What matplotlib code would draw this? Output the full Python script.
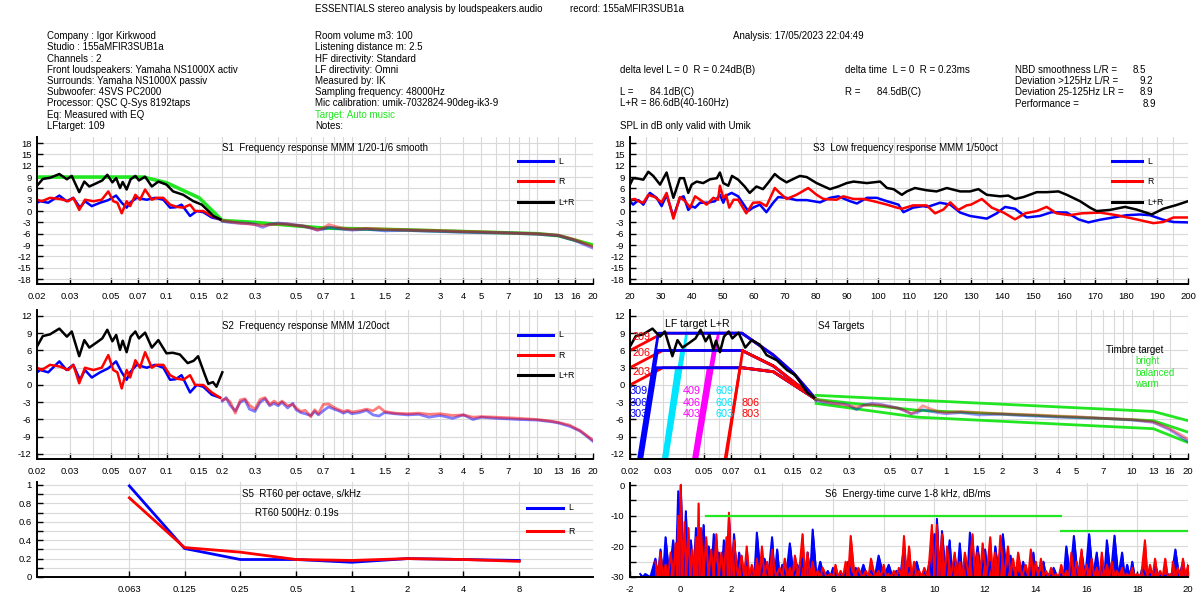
import numpy as np
import matplotlib
matplotlib.use('Agg')
import matplotlib.pyplot as plt
from matplotlib.ticker import FixedLocator, NullFormatter, MultipleLocator

plt.rcParams['font.family'] = ['Liberation Sans', 'DejaVu Sans']
plt.rcParams['axes.unicode_minus'] = False

BLUE, RED, BLACK, GREEN = '#0000ff', '#ff0000', '#000000', '#22e622'
CYAN, MAGENTA = '#00e5ff', '#ff00ff'
FS = 7.0

# ---------------- data (kHz, dB) ----------------
freq_ticks = [0.02, 0.03, 0.05, 0.07, 0.1, 0.15, 0.2, 0.3, 0.5, 0.7, 1, 1.5, 2, 3, 4, 5, 7, 10, 13, 16, 20]
freq_labels = ['0.02', '0.03', '0.05', '0.07', '0.1', '0.15', '0.2', '0.3', '0.5', '0.7', '1', '1.5', '2',
               '3', '4', '5', '7', '10', '13', '16', '20']

# low frequency part, same in S1 and S2
lf_L = [(0.020, 2.2), (0.0208, 2.6), (0.023, 2.2), (0.0264, 4.1), (0.0289, 2.6), (0.0314, 3.5),
        (0.0341, 0.9), (0.0363, 2.6), (0.0395, 1.3), (0.0438, 2.2), (0.0485, 2.9), (0.0534, 4.1),
        (0.0573, 2.2), (0.0609, 0.9), (0.0636, 2.2), (0.069, 3.5), (0.0782, 3.0), (0.0867, 3.5),
        (0.0961, 3.0), (0.1045, 0.9), (0.1120, 1.0), (0.1205, 1.7), (0.1339, -1.3), (0.1455, 0.0),
        (0.1578, -0.3), (0.1754, -1.7), (0.1943, -2.2)]
lf_R = [(0.020, 3.0), (0.0212, 2.6), (0.0235, 3.5), (0.0266, 3.2), (0.0295, 2.6), (0.0314, 3.5),
        (0.0338, 0.3), (0.0363, 3.0), (0.0403, 2.6), (0.0447, 3.0), (0.0485, 5.2), (0.0516, 2.6),
        (0.0543, 2.2), (0.0573, -0.6), (0.0609, 2.6), (0.0636, 1.3), (0.0679, 4.3), (0.0719, 3.0),
        (0.0766, 5.7), (0.0833, 3.0), (0.0885, 3.5), (0.0961, 3.5), (0.1045, 1.7), (0.1135, 1.1),
        (0.1231, 0.9), (0.1339, 1.7), (0.1425, 0.0), (0.1578, 0.0), (0.1754, -1.3), (0.1943, -2.2)]
lf_LR = [(0.020, 6.7), (0.0215, 8.5), (0.0235, 8.8), (0.0264, 9.8), (0.029, 8.4), (0.0308, 9.3),
         (0.0338, 5.0), (0.036, 7.8), (0.0383, 6.5), (0.042, 7.4), (0.045, 8.1), (0.0479, 9.6),
         (0.051, 7.6), (0.0535, 8.7), (0.0561, 6.1), (0.058, 7.7), (0.0609, 5.7), (0.064, 8.4),
         (0.0679, 9.3), (0.071, 8.1), (0.0766, 9.1), (0.0833, 6.5), (0.0903, 7.8), (0.0999, 7.0),
         (0.1085, 5.2), (0.1231, 4.3), (0.1397, 2.6), (0.1548, 1.7), (0.1683, 0.0), (0.179, -1.3),
         (0.195, -2.2)]
s2_LR = [(0.020, 6.7), (0.0215, 8.5), (0.0235, 8.8), (0.0264, 9.8), (0.029, 8.4), (0.0308, 9.3),
         (0.0338, 5.0), (0.036, 7.8), (0.0383, 6.5), (0.042, 7.4), (0.045, 8.1), (0.0479, 9.6),
         (0.051, 7.6), (0.0535, 8.7), (0.0561, 6.1), (0.058, 7.7), (0.0609, 5.7), (0.064, 8.4),
         (0.0679, 9.3), (0.071, 8.1), (0.0766, 9.1), (0.0833, 6.5), (0.0903, 7.8), (0.0999, 5.5),
         (0.108, 5.6), (0.118, 5.3), (0.130, 3.8), (0.140, 4.2), (0.148, 5.0), (0.160, 2.0),
         (0.168, 0.2), (0.178, 0.5), (0.186, -0.3), (0.200, 2.2)]

# S1 smoothed upper part
s1_hf_L = [(0.2, -2.7), (0.22, -3.0), (0.25, -3.2), (0.28, -3.3), (0.3, -3.5), (0.33, -4.3), (0.36, -3.5),
           (0.4, -3.2), (0.45, -3.4), (0.5, -3.7), (0.55, -4.0), (0.6, -4.5), (0.65, -5.0), (0.7, -4.8),
           (0.75, -4.3), (0.8, -4.5), (0.9, -4.8), (1.0, -5.0), (1.2, -4.8), (1.5, -5.2), (2, -5.1),
           (2.5, -5.3), (3, -5.4), (4, -5.6), (5, -5.7), (7, -5.8), (10, -6.1), (13, -6.5), (16, -7.8),
           (20, -9.8)]
s1_hf_R = [(0.2, -2.5), (0.22, -2.8), (0.25, -3.2), (0.28, -3.4), (0.3, -3.6), (0.33, -3.8), (0.36, -3.6),
           (0.4, -3.4), (0.45, -3.5), (0.5, -3.8), (0.55, -4.0), (0.6, -4.4), (0.65, -5.0), (0.7, -4.5),
           (0.75, -3.6), (0.8, -4.0), (0.9, -4.6), (1.0, -4.8), (1.2, -4.6), (1.5, -4.8), (2, -5.0),
           (2.5, -5.1), (3, -5.2), (4, -5.4), (5, -5.5), (7, -5.8), (10, -6.0), (13, -6.4), (16, -7.6),
           (20, -9.4)]
s1_target = [(0.02, 9), (0.075, 9), (0.1, 7.5), (0.15, 3.5), (0.2, -2.5), (0.3, -3.0), (0.7, -4.5),
             (2, -5.0), (10, -6.0), (13, -6.5), (20, -9.0)]

# S2 1/20 oct upper part
s2_hf_L = [(0.2, -2.8), (0.21, -2.2), (0.22, -3.5), (0.235, -4.5), (0.25, -3.0), (0.265, -2.6), (0.28, -4.2),
           (0.3, -4.6), (0.32, -3.0), (0.34, -2.4), (0.36, -3.6), (0.38, -3.2), (0.4, -3.6), (0.42, -3.0),
           (0.45, -4.0), (0.48, -3.2), (0.5, -4.3), (0.53, -4.8), (0.56, -5.0), (0.6, -5.3), (0.63, -4.6),
           (0.66, -5.2), (0.7, -4.5), (0.75, -3.8), (0.8, -4.2), (0.85, -4.5), (0.9, -4.9), (0.95, -4.6),
           (1.0, -5.0), (1.1, -4.8), (1.2, -4.4), (1.3, -5.2), (1.4, -5.4), (1.5, -4.8), (1.7, -5.0),
           (2, -5.2), (2.3, -5.1), (2.6, -5.6), (3, -5.3), (3.5, -5.8), (4, -5.2), (4.5, -6.0), (5, -5.6),
           (6, -5.8), (7, -5.9), (8, -6.0), (10, -6.1), (12, -6.4), (13, -6.6), (15, -7.2), (16, -7.6),
           (17, -8.0), (18, -8.6), (20, -9.8)]
s2_hf_R = [(0.2, -2.6), (0.21, -2.4), (0.22, -2.9), (0.235, -4.9), (0.25, -2.6), (0.265, -2.4), (0.28, -3.5),
           (0.3, -4.2), (0.32, -2.5), (0.34, -2.2), (0.36, -3.4), (0.38, -2.8), (0.4, -3.3), (0.42, -2.8),
           (0.45, -3.6), (0.48, -3.4), (0.5, -4.0), (0.53, -4.6), (0.56, -4.4), (0.6, -5.5), (0.63, -4.3),
           (0.66, -5.0), (0.7, -3.4), (0.75, -3.3), (0.8, -3.9), (0.85, -4.3), (0.9, -4.6), (0.95, -4.4),
           (1.0, -4.7), (1.1, -4.5), (1.2, -4.2), (1.3, -4.5), (1.4, -3.8), (1.5, -4.6), (1.7, -4.9),
           (2, -5.0), (2.3, -4.9), (2.6, -5.1), (3, -5.0), (3.5, -5.3), (4, -5.2), (4.5, -5.6), (5, -5.5),
           (6, -5.6), (7, -5.7), (8, -5.8), (10, -6.0), (12, -6.3), (13, -6.5), (15, -7.0), (16, -7.5),
           (17, -7.9), (18, -8.5), (20, -9.6)]

# S3 low frequency response (Hz, dB)
s3_L = [(20, 2.6), (21, 1.7), (22.7, 2.9), (24.3, 1.7), (26.4, 4.8), (28.6, 3.5), (30.2, 1.3), (31.8, 4.3),
        (34, -1.5), (36.1, 3.5), (37.3, 3.9), (38.8, 0.3), (39.9, 1.3), (41, 0.9), (42.6, 2.2), (45, 2.2),
        (47.4, 2.6), (49, 4.3), (50.1, 2.2), (51, 4.1), (52.8, 4.8), (54.9, 3.9), (58.1, 0.0), (59.7, 0.9),
        (61.9, 1.7), (64, -0.3), (66.2, 2.2), (67.8, 3.7), (70.5, 3.5), (73.7, 2.9), (77, 2.9), (81.3, 2.3),
        (84.5, 3.5), (87.2, 3.9), (91, 2.6), (93.2, 2.0), (96.4, 3.5), (99.6, 3.5), (102.9, 2.6),
        (106.6, 1.7), (108.2, -0.3), (111.3, 0.9), (114.5, 1.3), (116, 1.1), (120, 2.2), (123.3, 1.7),
        (126.5, -0.4), (129.7, -1.3), (135.1, -2.0), (138.3, -0.6), (141, 1.1), (144.2, 0.6), (148, -1.7),
        (152.2, -1.3), (156, -0.3), (160.9, -0.4), (164.7, -2.2), (167.9, -3.0), (171.6, -2.3),
        (175.9, -1.7), (180.2, -1.1), (184.5, -0.9), (187.7, -1.1), (192, -2.3), (195.3, -2.9), (200, -3.0)]
s3_R = [(20, 3.0), (21.6, 3.2), (22.7, 2.6), (24.3, 2.2), (25.9, 4.3), (28, 3.7), (30.2, 2.3), (31.8, 4.8),
        (34, -2.0), (36.1, 3.7), (37.8, 2.6), (39.4, 0.9), (41, 3.9), (42.6, 3.0), (44.7, 1.7), (46.9, 3.5),
        (48.4, 3.0), (49, 6.7), (50.1, 3.5), (51, 4.3), (52, 0.9), (53.4, 3.0), (54.9, 3.0), (57.5, -0.6),
        (59.7, 2.2), (61.9, 2.3), (64, 1.3), (66.7, 6.1), (68.3, 4.8), (70.5, 3.2), (73.7, 4.3), (77.5, 6.1),
        (80.2, 4.3), (82.4, 3.2), (86.6, 3.0), (88.8, 3.9), (92.1, 3.2), (95.3, 3.2), (98.6, 2.6),
        (102.9, 1.7), (106.1, 0.9), (107.7, 0.6), (111.3, 1.5), (115.7, 1.5), (118.4, -0.6), (121.1, 0.4),
        (123.3, 2.3), (125.9, 0.3), (128.6, 1.5), (130, 1.7), (133.5, 3.2), (136.7, 0.9), (140.5, -0.4),
        (144.2, -2.2), (147.5, -0.6), (151.2, 0.0), (154.4, 1.1), (157.6, -0.6), (161.9, -1.1),
        (165.7, -0.6), (171.6, -0.4), (177, -1.1), (182.3, -2.0), (188.8, -3.2), (192, -2.9),
        (195.3, -1.7), (200, -1.7)]
s3_LR = [(20, 7.0), (21, 8.7), (22.5, 8.6), (24.3, 8.3), (25.9, 10.4), (27.5, 9.3), (29.7, 7.0), (31.8, 10.2),
         (34, 3.5), (36.1, 8.7), (37.4, 8.7), (38.8, 4.8), (39.9, 7.0), (41.5, 7.8), (43.6, 7.4), (45.8, 8.4),
         (48, 8.7), (49, 10.2), (50.1, 7.4), (51.7, 6.7), (52.9, 9.3), (54.9, 8.3), (57, 6.5), (58.6, 4.8),
         (60.8, 6.5), (62.9, 5.8), (64.5, 7.4), (66.7, 9.8), (68.3, 8.7), (70.5, 7.6), (73.2, 8.7),
         (74.8, 9.3), (77, 9.0), (80.2, 7.4), (84.5, 5.8), (87.2, 6.5), (89.9, 7.4), (92.1, 7.8), (96.4, 7.4),
         (100.7, 7.8), (102.9, 6.1), (105, 5.8), (107.7, 4.3), (109.3, 5.2), (111.9, 6.1), (115.7, 5.5),
         (118.9, 5.2), (122.2, 6.1), (126.5, 5.2), (129.7, 5.2), (132.4, 5.8), (135.1, 4.3), (139.4, 3.9),
         (142, 4.1), (144.2, 3.2), (146.9, 3.7), (151.2, 5.0), (154.4, 5.0), (158.2, 5.2), (160.9, 4.3),
         (165.2, 2.6), (168.4, 0.9), (170.5, 0.0), (174.8, 0.3), (179.7, 1.1), (183.4, 0.4), (188.3, -0.9),
         (192, 0.6), (196.3, 1.6), (200, 2.6)]

# S4 LF targets: shoulder per level, steep flanks (f at -13 dB, f at level)
shoulders = {9: [(0.08, 9), (0.118, 5.2), (0.151, 2.1), (0.2, -2.5)],
             6: [(0.08, 6), (0.118, 3.3), (0.2, -2.5)],
             3: [(0.08, 3), (0.118, 2.3), (0.2, -2.5)]}
flank_2xx = [(0.02, 0.03, 9), (0.02, 0.03, 6), (0.02, 0.03, 3)]     # starts 3 dB below level
flank_3xx = [(0.0222, 0.0284, 9), (0.0226, 0.0281, 6), (0.0231, 0.0277, 3)]
flank_4xx = [(0.0315, 0.0403, 9), (0.0308, 0.0379, 6), (0.0302, 0.0356, 3)]
flank_6xx = [(0.0457, 0.0597, 9), (0.0447, 0.0561, 6), (0.0438, 0.0527, 3)]
flank_8xx = [(0.0656, 0.0807, 6), (0.0648, 0.0781, 3)]
timbre_bright = [(0.2, -1.8), (13, -4.6), (20, -6.2)]
timbre_balanced = [(0.2, -2.5), (0.7, -4.4), (13, -6.2), (20, -8.2)]
timbre_warm = [(0.2, -3.2), (0.7, -5.6), (13, -7.6), (20, -10.0)]

# S5 RT60 per octave
rt_freq = [0.063, 0.125, 0.25, 0.5, 1, 2, 4, 8]
rt_labels = ['0.063', '0.125', '0.25', '0.5', '1', '2', '4', '8']
rt_L = [0.99, 0.31, 0.19, 0.19, 0.16, 0.20, 0.19, 0.18]
rt_R = [0.86, 0.32, 0.27, 0.19, 0.18, 0.20, 0.19, 0.17]

# S6 energy-time curve peaks (ms, dB)
etc_L = [(-1.6, -29), (-1.4, -29), (-1.0, -24), (-0.8, -21), (-0.6, -17), (-0.3, -18), (-0.1, -2), (0.0, 0),
         (0.2, -8.5), (0.4, -18), (0.6, -14), (0.9, -13), (1.1, -20), (1.3, -16), (1.5, -22), (1.7, -18),
         (1.9, -10.6), (2.1, -16), (2.3, -22), (2.6, -24), (2.8, -27), (3.0, -15.5), (3.3, -24), (3.6, -17),
         (3.8, -21), (4.0, -26), (4.3, -19), (4.6, -26), (4.8, -24), (5.0, -22), (5.2, -14.5), (5.5, -25),
         (5.8, -28), (6.0, -27), (6.3, -29), (6.6, -25), (6.9, -27), (7.2, -26), (7.5, -28), (7.8, -23),
         (8.2, -26), (8.5, -28), (8.8, -20), (9.0, -27), (9.3, -25), (9.6, -28), (9.8, -25), (10.0, -16),
         (10.1, -11), (10.3, -15), (10.6, -18), (10.8, -23), (11.0, -19), (11.2, -24), (11.4, -15.5),
         (11.7, -20), (12.0, -21), (12.2, -25), (12.4, -20), (12.7, -16), (13.0, -23), (13.2, -27),
         (13.5, -25), (13.7, -28), (13.9, -22), (14.1, -27), (14.3, -25), (14.5, -29), (14.7, -27),
         (15.0, -29), (15.2, -20), (15.5, -16.6), (15.8, -22), (16.1, -16), (16.4, -22), (16.6, -25),
         (16.8, -18), (17.1, -16.5), (17.4, -22), (17.6, -26), (17.8, -25), (18.0, -29), (18.2, -27),
         (18.5, -29), (18.7, -26), (19.0, -29), (19.2, -29), (19.5, -21), (19.8, -25), (20.0, -27)]
etc_R = [(-1.0, -25), (-0.8, -22), (-0.6, -26), (-0.4, -22), (-0.2, -19), (-0.1, -10), (0.0, 0), (0.15, -12),
         (0.3, -14), (0.45, -21), (0.6, -17), (0.7, -6), (0.8, -14), (1.0, -17), (1.2, -21), (1.4, -16),
         (1.6, -22), (1.8, -17), (1.9, -9), (2.1, -18), (2.4, -23), (2.6, -20), (2.8, -26), (3.0, -24),
         (3.2, -20), (3.4, -25), (3.6, -21), (3.9, -27), (4.1, -24), (4.3, -27), (4.5, -23), (4.8, -16),
         (5.0, -22), (5.2, -25), (5.4, -28), (5.6, -27), (5.9, -29), (6.1, -26), (6.3, -28), (6.5, -25),
         (6.7, -16.6), (7.0, -27), (7.3, -28), (7.5, -24), (7.8, -28), (8.0, -26), (8.2, -29), (8.4, -28),
         (8.6, -27), (8.8, -16.6), (9.0, -20), (9.2, -25), (9.4, -28), (9.6, -27), (9.9, -13), (10.1, -13),
         (10.3, -16), (10.5, -20), (10.8, -22), (11.0, -25), (11.2, -22), (11.5, -16), (11.7, -22),
         (11.9, -19), (12.2, -17), (12.4, -22), (12.6, -16.5), (12.9, -20), (13.1, -24), (13.3, -22),
         (13.6, -26), (13.8, -21), (14.0, -25), (14.2, -24), (14.4, -28), (14.6, -27), (14.8, -29),
         (15.0, -26), (15.2, -28), (15.4, -22), (15.6, -25), (15.8, -21), (16.0, -26), (16.2, -24),
         (16.4, -27), (16.6, -22), (16.8, -26), (17.0, -25), (17.2, -28), (17.4, -27), (17.6, -29),
         (17.8, -27), (18.0, -29), (18.3, -18), (18.5, -26), (18.7, -24), (18.9, -28), (19.1, -24),
         (19.3, -29), (19.4, -25), (19.6, -27), (19.8, -24), (20.0, -26)]
etc_limit_early = [(1, -10), (15, -10)]
etc_limit_late = [(15, -15), (20, -15)]

# ---------------- helpers ----------------
W, H = 1200, 600
fig = plt.figure(figsize=(12, 6), dpi=100)


def xy(pairs):
    a = np.array(pairs, dtype=float)
    return a[:, 0], a[:, 1]


def ftext(px, py, s, **kw):
    kw.setdefault('fontsize', FS)
    kw.setdefault('va', 'center')
    fig.text(px / W, 1 - py / H, s, **kw)


def new_axes(left, top, right, bottom):
    ax = fig.add_axes([left / W, 1 - bottom / H, (right - left) / W, (bottom - top) / H])
    for s in ('top', 'right'):
        ax.spines[s].set_visible(False)
    for s in ('left', 'bottom'):
        ax.spines[s].set_linewidth(1.4)
    ax.tick_params(which='both', direction='in', labelsize=6.8, length=4, width=1)
    ax.tick_params(axis='x', pad=6)
    ax.tick_params(axis='y', pad=4)
    ax.tick_params(which='minor', length=0)
    ax.grid(True, which='both', color='#d9d9d9', lw=0.8)
    ax.set_axisbelow(True)
    return ax


def log_freq_axis(ax):
    ax.set_xscale('log')
    ax.set_xlim(0.02, 20)
    ax.xaxis.set_major_locator(FixedLocator(freq_ticks))
    ax.xaxis.set_major_formatter(plt.FixedFormatter(freq_labels))
    minors = [m * d for d in (0.01, 0.1, 1, 10) for m in range(1, 10) if 0.02 <= m * d <= 20]
    ax.xaxis.set_minor_locator(FixedLocator(minors))
    ax.xaxis.set_minor_formatter(NullFormatter())


def db_axis(ax, lo, hi, top, bottom):
    ax.set_ylim(bottom, top)
    ax.yaxis.set_major_locator(FixedLocator(np.arange(lo, hi + 1, 3)))


def key(ax, x0, x1, y, color, label):
    ax.plot([x0, x1], [y, y], color=color, lw=2.2, transform=ax.transAxes, clip_on=False)
    ax.text(x1 + 0.009, y, label, transform=ax.transAxes, fontsize=6.3, va='center')


# ---------------- header ----------------
ftext(315, 9, 'ESSENTIALS stereo analysis by loudspeakers.audio')
ftext(570, 9, 'record: 155aMFIR3SUB1a')
ftext(733, 36, 'Analysis: 17/05/2023 22:04:49')
left_lines = ['Company : Igor Kirkwood', 'Studio : 155aMFIR3SUB1a', 'Channels : 2',
              'Front loudspeakers: Yamaha NS1000X activ', 'Surrounds: Yamaha NS1000X passiv',
              'Subwoofer: 4SVS PC2000', 'Processor: QSC Q-Sys 8192taps', 'Eq: Measured with EQ',
              'LFtarget: 109']
mid_lines = ['Room volume m3: 100', 'Listening distance m: 2.5', 'HF directivity: Standard',
             'LF directivity: Omni', 'Measured by: IK', 'Sampling frequency: 48000Hz',
             'Mic calibration: umik-7032824-90deg-ik3-9', 'Target: Auto music', 'Notes:']
for i, s in enumerate(left_lines):
    ftext(47, 36 + i * 11.25, s)
for i, s in enumerate(mid_lines):
    ftext(315, 36 + i * 11.25, s, color=GREEN if s.startswith('Target') else 'black')
ftext(620, 70, 'delta level L = 0  R = 0.24dB(B)')
ftext(620, 92, 'L =      84.1dB(C)')
ftext(620, 103, 'L+R = 86.6dB(40-160Hz)')
ftext(620, 126, 'SPL in dB only valid with Umik')
ftext(845, 70, 'delta time  L = 0  R = 0.23ms')
ftext(845, 92, 'R =      84.5dB(C)')
scores = [('NBD smoothness L/R =', '8.5', 1133), ('Deviation >125Hz L/R =', '9.2', 1140),
          ('Deviation 25-125Hz LR =', '8.9', 1140), ('Performance =', '8.9', 1143)]
for i, (name, val, vx) in enumerate(scores):
    ftext(1015, 70 + i * 11.2, name)
    ftext(vx, 70 + i * 11.2, val)

# ---------------- S1 ----------------
ax1 = new_axes(37, 137, 593, 283.6)
log_freq_axis(ax1)
db_axis(ax1, -18, 18, 19.6, -19.2)
f, v = xy(s1_target)
ax1.plot(f, v, color=GREEN, lw=2.6)
for lf, hf, c in ((lf_L, s1_hf_L, BLUE), (lf_R, s1_hf_R, RED)):
    f, v = xy(hf)
    ax1.plot(f, v, color=c, lw=2.2, alpha=0.45)
    f, v = xy(lf)
    ax1.plot(f, v, color=c, lw=1.8)
f, v = xy(lf_LR)
ax1.plot(f, v, color=BLACK, lw=1.8)
for y, c, lab in ((0.836, BLUE, 'L'), (0.699, RED, 'R'), (0.556, BLACK, 'L+R')):
    key(ax1, 0.865, 0.928, y, c, lab)
ftext(222, 148, 'S1  Frequency response MMM 1/20-1/6 smooth')

# ---------------- S3 ----------------
ax3 = new_axes(630, 137, 1188, 283.6)
ax3.set_xlim(20, 200)
ax3.xaxis.set_major_locator(MultipleLocator(10))
ax3.xaxis.set_minor_locator(MultipleLocator(5))
db_axis(ax3, -18, 18, 19.6, -19.2)
for data, c in ((s3_L, BLUE), (s3_R, RED), (s3_LR, BLACK)):
    f, v = xy(data)
    ax3.plot(f, v, color=c, lw=1.8)
for y, c, lab in ((0.836, BLUE, 'L'), (0.699, RED, 'R'), (0.556, BLACK, 'L+R')):
    key(ax3, 0.864, 0.918, y, c, lab)
ftext(813, 148, 'S3  Low frequency response MMM 1/50oct')

# ---------------- S2 ----------------
ax2 = new_axes(37, 310.2, 593, 458.6)
log_freq_axis(ax2)
db_axis(ax2, -12, 12, 13, -12.8)
for lf, hf, c in ((lf_L, s2_hf_L, BLUE), (lf_R, s2_hf_R, RED)):
    f, v = xy(hf)
    ax2.plot(f, v, color=c, lw=2.0, alpha=0.5)
    f, v = xy(lf)
    ax2.plot(f, v, color=c, lw=1.8)
f, v = xy(s2_LR)
ax2.plot(f, v, color=BLACK, lw=1.8)
for y, c, lab in ((0.833, BLUE, 'L'), (0.698, RED, 'R'), (0.563, BLACK, 'L+R')):
    key(ax2, 0.865, 0.928, y, c, lab)
ftext(222, 326, 'S2  Frequency response MMM 1/20oct')

# ---------------- S4 ----------------
ax4 = new_axes(630, 310.2, 1188, 458.6)
log_freq_axis(ax4)
db_axis(ax4, -12, 12, 13, -12.8)
for flanks, c in ((flank_4xx, CYAN), (flank_6xx, MAGENTA)):
    for f0, f1, lvl in flanks:
        f, v = xy([(f0, -13), (f1, lvl)] + shoulders[lvl])
        ax4.plot(f, v, color=c, lw=2.0)
for f0, f1, lvl in flank_2xx:
    f, v = xy([(f0, lvl - 3), (f1, lvl)] + shoulders[lvl])
    ax4.plot(f, v, color=RED, lw=2.0)
for flanks, c in ((flank_3xx, BLUE), (flank_8xx, RED)):
    for f0, f1, lvl in flanks:
        f, v = xy([(f0, -13), (f1, lvl)] + shoulders[lvl])
        ax4.plot(f, v, color=c, lw=2.0)
for data in (timbre_bright, timbre_balanced, timbre_warm):
    f, v = xy(data)
    ax4.plot(f, v, color=GREEN, lw=2.0)
for hf, c in ((s1_hf_L, BLUE), (s1_hf_R, RED)):
    f, v = xy(hf)
    ax4.plot(f, v, color=c, lw=2.0, alpha=0.4)
f, v = xy(lf_LR)
ax4.plot(f, v, color=BLACK, lw=1.8)
tlabels = [('209', 0.0207, 8.3, RED), ('206', 0.0207, 5.6, RED), ('203', 0.0207, 2.3, RED),
           ('309', 0.02, -1.0, BLUE), ('306', 0.02, -3.1, BLUE), ('303', 0.02, -5.0, BLUE),
           ('409', 0.0386, -1.0, MAGENTA), ('406', 0.0386, -3.1, MAGENTA), ('403', 0.0386, -5.0, MAGENTA),
           ('609', 0.0573, -1.0, CYAN), ('606', 0.0573, -3.1, CYAN), ('603', 0.0573, -5.0, CYAN),
           ('806', 0.0798, -3.1, RED), ('803', 0.0798, -5.0, RED)]
for s, fx, dy, c in tlabels:
    ax4.text(fx, dy, s, color=c, fontsize=7.8, va='center', ha='left')
ftext(665, 324, 'LF target L+R', fontsize=7.6)
ftext(818, 326, 'S4 Targets')
ftext(1106, 350, 'Timbre target')
for i, s in enumerate(['bright', 'balanced', 'warm']):
    ftext(1135, 361 + i * 11.5, s, color=GREEN)

# ---------------- S5 ----------------
ax5 = new_axes(37, 482.2, 593, 577)
ax5.set_xscale('log')
ax5.set_xlim(0.02, 20)
ax5.xaxis.set_major_locator(FixedLocator(rt_freq))
ax5.xaxis.set_major_formatter(plt.FixedFormatter(rt_labels))
ax5.xaxis.set_minor_locator(FixedLocator([]))
ax5.set_ylim(0, 1.03)
ax5.yaxis.set_major_locator(MultipleLocator(0.2))
ax5.yaxis.set_minor_locator(MultipleLocator(0.1))
ax5.yaxis.set_major_formatter(plt.FuncFormatter(lambda y, p: '%g' % round(y, 1)))
ax5.tick_params(axis='y', which='minor', length=4)
ax5.plot(rt_freq, rt_L, color=BLUE, lw=2.0)
ax5.plot(rt_freq, rt_R, color=RED, lw=2.0)
key(ax5, 0.881, 0.946, 0.728, BLUE, 'L')
key(ax5, 0.881, 0.946, 0.485, RED, 'R')
ftext(242, 494, 'S5  RT60 per octave, s/kHz')
ftext(255, 513, 'RT60 500Hz: 0.19s')

# ---------------- S6 ----------------
ax6 = new_axes(630, 483.2, 1188, 577)
ax6.set_xlim(-2, 20)
ax6.set_ylim(-30, 0.6)
ax6.xaxis.set_major_locator(MultipleLocator(2))
ax6.yaxis.set_major_locator(MultipleLocator(10))
ax6.yaxis.set_minor_locator(MultipleLocator(5))
ax6.tick_params(axis='y', which='minor', length=4)
for data, c in ((etc_L, BLUE), (etc_R, RED)):
    t, v = xy(data)
    tz = np.empty(2 * len(t) - 1)
    vz = np.full(2 * len(t) - 1, -30.0)
    tz[0::2], vz[0::2] = t, v
    tz[1::2] = (t[:-1] + t[1:]) / 2
    ax6.fill_between(tz, vz, -30, color=c, lw=0.8)
    ax6.plot(tz, vz, color=c, lw=1.4)
for data in (etc_limit_early, etc_limit_late):
    t, v = xy(data)
    ax6.plot(t, v, color=GREEN, lw=1.6)
ftext(825, 494, 'S6  Energy-time curve 1-8 kHz, dB/ms')

fig.savefig('out.png', dpi=100)
